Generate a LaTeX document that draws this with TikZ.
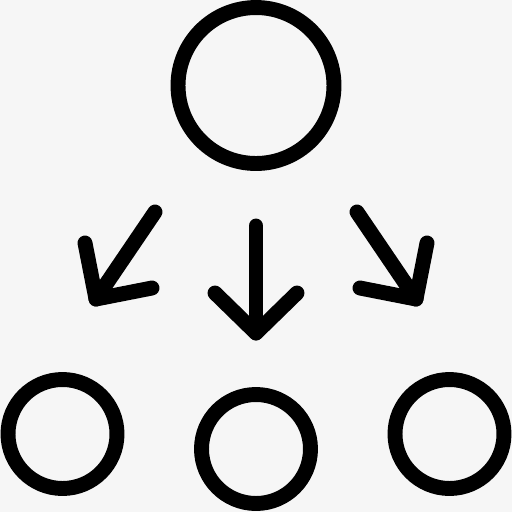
\documentclass[tikz,border=0pt]{standalone}
\usepackage{tikz}
\definecolor{bgcol}{HTML}{F6F6F6}
\tikzset{
	ring/.style={circle, draw=black, line width=8.5pt, inner sep=0pt, outer sep=0pt},
	stroke/.style={line width=8.5pt, line cap=round, line join=round}
}
\begin{document}
\begin{tikzpicture}[x=0.02cm, y=-0.02cm, line join=round, line cap=round]
			\fill[bgcol] (0,0) rectangle (512,512);
			\useasboundingbox (0,0) rectangle (512,512);
			% circles
			\node[ring, minimum size=3.12cm] (top) at (256,85.5) {};
			\node[ring, minimum size=2.18cm] (left) at (62.5,434) {};
			\node[ring, minimum size=2.18cm] (mid) at (256,449) {};
			\node[ring, minimum size=2.18cm] (right) at (449.5,434) {};
			% arrows
			\coordinate (ls) at (155,212);
			\coordinate (lt) at (96,299);
			\coordinate (ms) at (256,226);
			\coordinate (mt) at (256,333);
			\coordinate (rs) at (357,212);
			\coordinate (rt) at (416,299);
			\draw[stroke] (ls)--(lt);
			\draw[stroke] (85,243)--(lt)--(152,288);
			\draw[stroke] (ms)--(mt);
			\draw[stroke] (215,293)--(mt)--(297,293);
			\draw[stroke] (rs)--(rt);
			\draw[stroke] (427,243)--(rt)--(360,288);
\end{tikzpicture}
\end{document}
